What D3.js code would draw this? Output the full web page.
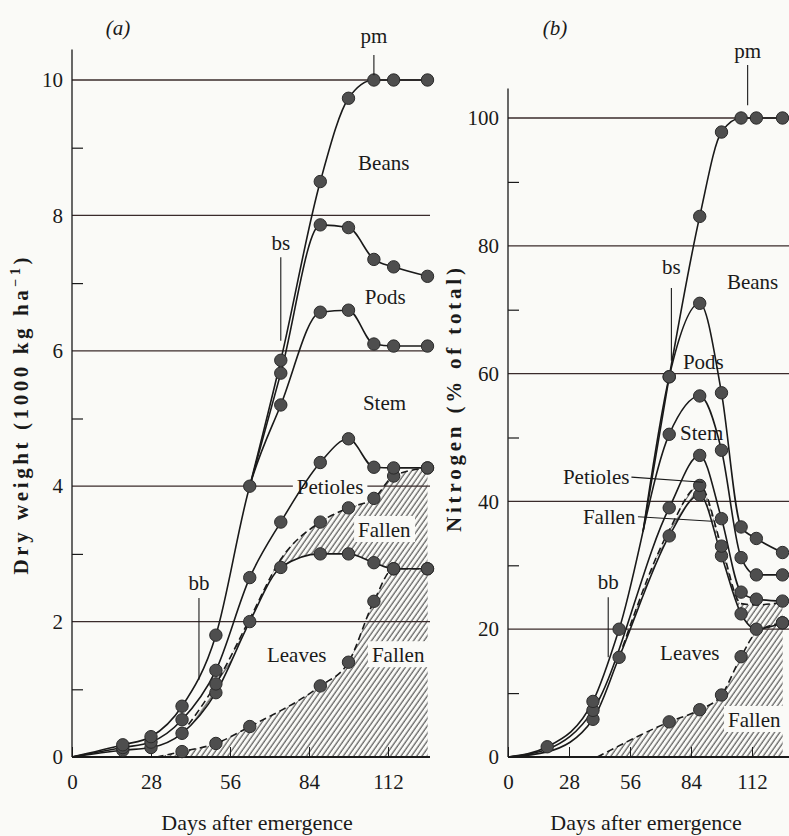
<!DOCTYPE html>
<html>
<head>
<meta charset="utf-8">
<script src="https://cdn.jsdelivr.net/npm/d3@7"></script>
<style>
  body { margin: 0; background: #fafaf7; }
  text { font-family: "Liberation Serif", "DejaVu Serif", serif; fill: #1a1a1a; }
</style>
</head>
<body>
<svg id="chart"></svg>
<script>
// Sampling days (days after emergence)
var days = [18, 28, 39, 51, 63, 74, 88, 98, 107, 114, 126];
var xTicks = [0, 28, 56, 84, 112];

// (a) Dry weight, 1000 kg/ha, each curve cumulative from the bottom
var fallenLeavesA = [null, null, 0.08, 0.2, 0.45, null, 1.05, 1.4, 2.3, 2.78, 2.78];
var leavesA       = [0.1, 0.14, 0.35, 0.95, 2.0, 2.8, 3.0, 3.0, 2.87, 2.78, 2.78];
var fallenPetA    = [null, null, null, 1.08, 2.04, 2.92, 3.47, 3.68, 3.82, 4.15, 4.27];
var petiolesA     = [0.14, 0.22, 0.55, 1.28, 2.65, 3.47, 4.35, 4.7, 4.28, 4.27, 4.27];
var stemA         = [0.18, 0.3, 0.75, 1.8, 4.0, 5.2, 6.57, 6.6, 6.1, 6.07, 6.07];
var podsA         = [null, null, null, null, null, 5.67, 7.86, 7.82, 7.35, 7.24, 7.1];
var beansA        = [null, null, null, null, null, 5.86, 8.5, 9.73, 10.0, 10.0, 10.0];
var majorA = [0, 2, 4, 6, 8, 10];
var minorA = [1, 3, 5, 7, 9];

// (b) Nitrogen, % of final total
var fallenLeavesB = [null, null, null, null, null, 5.5, 7.4, 9.7, 15.7, 19.5, 21];
var leavesB       = [0.8, null, 5.9, 15.6, null, 34.6, 41, 31.5, 22.4, 20, 21];
var fallenPetB    = [null, null, null, null, null, 35.5, 42.5, 33, 24, 23.8, 24.2];
var petiolesB     = [1.2, null, 7.3, null, null, 39, 47.2, 37.3, 25.8, 24.7, 24.4];
var stemB         = [1.6, null, 8.7, 20, null, 50.5, 56.5, 48, 31.2, 28.5, 28.5];
var podsB         = [null, null, null, null, null, 59.5, 71, 57, 36, 34.2, 32];
var beansB        = [null, null, null, null, null, 59.5, 84.6, 97.8, 100, 100, 100];
var majorB = [0, 20, 40, 60, 80, 100];
var minorB = [10, 30, 50, 70, 90];

var bg = '#fafaf7', ink = '#1a1a1a';
var svg = d3.select('#chart').attr('width', 789).attr('height', 836);

var defs = svg.append('defs');
defs.append('pattern').attr('id', 'hatch')
    .attr('patternUnits', 'userSpaceOnUse')
    .attr('width', 4.3).attr('height', 8)
    .attr('patternTransform', 'rotate(35)')
  .append('line')
    .attr('x1', 1).attr('y1', 0).attr('x2', 1).attr('y2', 8)
    .attr('stroke', '#222').attr('stroke-width', 0.9);

// series: values, where the curve starts, days drawn without a marker
function ser(vals, from, plain, dash) {
    return {vals: vals, from: from, plain: plain || [], dash: !!dash};
}

var panels = [
    {
        name: '(a)', nameAt: [118, 35],
        x: d3.scaleLinear().domain([0, 112]).range([72, 388]),
        y: d3.scaleLinear().domain([0, 10]).range([757, 80]),
        xEnd: 430, yTop: 10.45, major: majorA, minor: minorA,
        title: 'Dry weight (1000 kg ha', sup: '\u22121', titleAt: [28, 416], titleLen: 317,
        xTitleAt: 257,
        s: {
            fallenLeaves: ser(fallenLeavesA, [30, 0], [], true),
            leaves: ser(leavesA, [0, 0]),
            fallenPet: ser(fallenPetA, [39, 0.35], [63, 74], true),
            petioles: ser(petiolesA, [0, 0]),
            stem: ser(stemA, [0, 0]),
            pods: ser(podsA, [63, 4.0]),
            beans: ser(beansA, [63, 4.0])
        },
        labels: [
            {t: 'Beans', at: [101.4, 8.67]}, {t: 'Pods', at: [103.8, 6.69]},
            {t: 'Stem', at: [103.1, 5.13]}, {t: 'Petioles', at: [79.7, 3.88], box: true},
            {t: 'Fallen', at: [101.4, 3.25], box: true}, {t: 'Leaves', at: [69.1, 1.40]},
            {t: 'Fallen', at: [106.3, 1.40], box: true}
        ],
        stages: [
            {t: 'bb', day: 45, from: 1.14, to: 2.35, text: 2.47},
            {t: 'bs', day: 74, from: 6.15, to: 7.38, text: 7.49},
            {t: 'pm', day: 107, from: 10.07, to: 10.37, text: 10.55}
        ]
    },
    {
        name: '(b)', nameAt: [555, 35],
        x: d3.scaleLinear().domain([0, 112]).range([508, 752]),
        y: d3.scaleLinear().domain([0, 100]).range([757, 118]),
        xEnd: 789, yTop: 104.6, major: majorB, minor: minorB,
        title: 'Nitrogen (% of total)', sup: null, titleAt: [461, 400], titleLen: 264,
        xTitleAt: 646,
        s: {
            fallenLeaves: ser(fallenLeavesB, [41, 0], [114], true),
            leaves: ser(leavesB, [0, 0], [18]),
            fallenPet: ser(fallenPetB, [51, 15.6], [74, 107, 114, 126], true),
            petioles: ser(petiolesB, [0, 0], [18]),
            stem: ser(stemB, [0, 0]),
            pods: ser(podsB, [62, 35.3]),
            beans: ser(beansB, [62, 35.3])
        },
        labels: [
            {t: 'Beans', at: [100.5, 73.2]}, {t: 'Pods', at: [80.3, 60.7]},
            {t: 'Stem', at: [79.0, 49.6]}, {t: 'Petioles', at: [25.2, 42.7], box: true, lead: [89.5, 43.0]},
            {t: 'Fallen', at: [34.4, 36.5], box: true, lead: [93.6, 36.9]}, {t: 'Leaves', at: [69.8, 15.2]},
            {t: 'Fallen', at: [101.0, 4.7], box: true}
        ],
        stages: [
            {t: 'bb', day: 46, from: 15.6, to: 25.0, text: 26.3},
            {t: 'bs', day: 75, from: 62.0, to: 73.4, text: 75.6},
            {t: 'pm', day: 110, from: 102.0, to: 108.3, text: 109.4}
        ]
    }
];

function points(s) {
    var p = [s.from];
    days.forEach(function (d, i) { if (s.vals[i] != null) p.push([d, s.vals[i]]); });
    return p;
}

panels.forEach(function (p) {
    var L = {};
    ['area', 'grid', 'box', 'line', 'dot', 'text'].forEach(function (k) { L[k] = svg.append('g'); });
    var x = p.x, y = p.y;
    var line = d3.line().x(function (d) { return x(d[0]); }).y(function (d) { return y(d[1]); })
        .curve(d3.curveMonotoneX);
    var area = d3.area().x(function (d) { return x(d[0]); }).y0(y(0)).y1(function (d) { return y(d[1]); })
        .curve(d3.curveMonotoneX);

    // hatched fallen petioles band, cleared below the leaves curve, then fallen leaves
    L.area.append('path').attr('d', area(points(p.s.fallenPet))).attr('fill', 'url(#hatch)');
    L.area.append('path').attr('d', area(points(p.s.leaves))).attr('fill', bg);
    L.area.append('path').attr('d', area(points(p.s.fallenLeaves))).attr('fill', 'url(#hatch)');

    // gridlines
    L.grid.selectAll('line.gl').data(p.major.filter(function (v) { return v > 0; }))
      .enter().append('line')
        .attr('x1', x(0)).attr('x2', p.xEnd)
        .attr('y1', function (d) { return y(d); }).attr('y2', function (d) { return y(d); })
        .attr('stroke', '#3a2b2b').attr('stroke-width', 1.3);

    // axes
    var ya = L.grid.append('g').attr('transform', 'translate(' + x(0) + ',0)')
        .call(d3.axisLeft(y).tickValues(p.major).tickSize(0).tickPadding(9));
    ya.select('.domain').remove();
    ya.attr('font-size', 21).attr('color', ink);

    var ym = L.grid.append('g').attr('transform', 'translate(' + x(0) + ',0)')
        .call(d3.axisLeft(y).tickValues(p.minor).tickSize(-11).tickFormat(''));
    ym.select('.domain').remove();
    ym.attr('color', ink).selectAll('line').attr('stroke-width', 1.2);

    var xa = L.grid.append('g').attr('transform', 'translate(0,' + y(0) + ')')
        .call(d3.axisBottom(x).tickValues(xTicks).tickSize(-10).tickPadding(17));
    xa.select('.domain').remove();
    xa.attr('font-size', 21).attr('color', ink).selectAll('line').attr('stroke-width', 1);

    L.grid.append('line').attr('x1', x(0)).attr('x2', x(0))
        .attr('y1', y(0)).attr('y2', y(p.yTop)).attr('stroke', ink).attr('stroke-width', 1.3);
    L.grid.append('line').attr('x1', x(0)).attr('x2', p.xEnd)
        .attr('y1', y(0)).attr('y2', y(0)).attr('stroke', ink).attr('stroke-width', 1.8);

    // curves and markers
    Object.keys(p.s).forEach(function (k) {
        var s = p.s[k];
        L.line.append('path').attr('d', line(points(s)))
            .attr('fill', 'none').attr('stroke', ink).attr('stroke-width', 1.6)
            .attr('stroke-dasharray', s.dash ? '7,4' : null);
        var dots = [];
        days.forEach(function (d, i) {
            if (s.vals[i] != null && s.plain.indexOf(d) < 0) dots.push([d, s.vals[i]]);
        });
        L.dot.selectAll(null).data(dots).enter().append('circle')
            .attr('cx', function (d) { return x(d[0]); })
            .attr('cy', function (d) { return y(d[1]); })
            .attr('r', 6.2).attr('fill', '#4e4e4e').attr('stroke', '#2b2b2b').attr('stroke-width', 1);
    });

    // curve labels
    p.labels.forEach(function (lb) {
        var t = L.text.append('text').attr('x', x(lb.at[0])).attr('y', y(lb.at[1]))
            .attr('font-size', 21).text(lb.t);
        var b = t.node().getBBox();
        if (lb.box) {
            L.box.append('rect').attr('x', b.x - 4).attr('y', b.y - 2)
                .attr('width', b.width + 8).attr('height', b.height + 2).attr('fill', bg);
        }
        if (lb.lead) {
            L.text.append('line').attr('x1', b.x + b.width + 2).attr('y1', b.y + b.height * 0.5)
                .attr('x2', x(lb.lead[0])).attr('y2', y(lb.lead[1]))
                .attr('stroke', ink).attr('stroke-width', 1.1);
        }
    });

    // growth stage marks
    p.stages.forEach(function (st) {
        L.text.append('line').attr('x1', x(st.day)).attr('x2', x(st.day))
            .attr('y1', y(st.from)).attr('y2', y(st.to)).attr('stroke', ink).attr('stroke-width', 1.1);
        L.text.append('text').attr('x', x(st.day)).attr('y', y(st.text))
            .attr('text-anchor', 'middle').attr('font-size', 21).text(st.t);
    });

    // panel letter
    L.text.append('text').attr('x', p.nameAt[0]).attr('y', p.nameAt[1])
        .attr('text-anchor', 'middle').attr('font-size', 21).attr('font-style', 'italic').text(p.name);

    // axis titles
    var yt = L.text.append('text')
        .attr('transform', 'translate(' + p.titleAt[0] + ',' + p.titleAt[1] + ') rotate(-90)')
        .attr('text-anchor', 'middle').attr('font-size', 21).attr('font-weight', 'bold')
        .attr('textLength', p.titleLen).attr('lengthAdjust', 'spacing');
    yt.append('tspan').text(p.title);
    if (p.sup) {
        yt.append('tspan').attr('dy', -8).attr('font-size', 14).text(p.sup);
        yt.append('tspan').attr('dy', 8).text(')');
    }

    L.text.append('text').attr('x', p.xTitleAt).attr('y', 830)
        .attr('text-anchor', 'middle').attr('font-size', 22).text('Days after emergence');
});
</script>
</body>
</html>
